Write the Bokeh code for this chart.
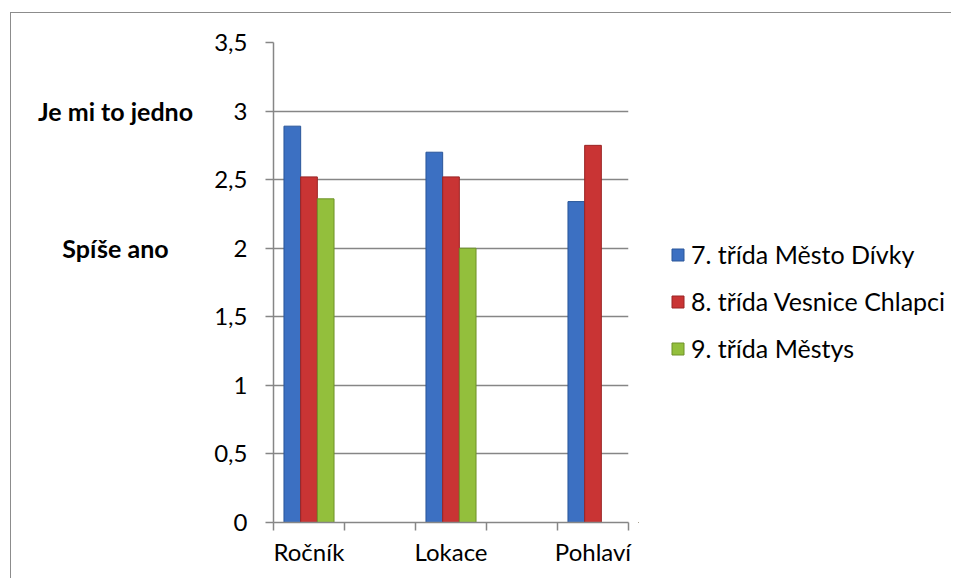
from bokeh.plotting import figure
from bokeh.models import ColumnDataSource, Range1d, FixedTicker, Legend, LegendItem
from bokeh.layouts import row
from bokeh.core.properties import value
from bokeh.transform import dodge
from bokeh.embed import file_html
from bokeh.resources import INLINE

categories = ["Ročník", "Lokace", "Pohlaví"]
series_names = ["7. třída Město Dívky", "8. třída Vesnice Chlapci", "9. třída Městys"]
s7 = [2.89, 2.70, 2.34]
s8 = [2.52, 2.52, 2.75]
s9 = [2.36, 2.00, float("nan")]
y_ticks = [0, 0.5, 1, 1.5, 2, 2.5, 3, 3.5]
y_tick_labels = ["0", "0,5", "1", "1,5", "2", "2,5", "3", "3,5"]
side_labels = ["Je mi to jedno", "Spíše ano"]
side_values = [3, 2]

colors = ["#3C70C2", "#C93434", "#93BF3C"]
edges = ["#2A5699", "#9A2424", "#6E9128"]

FONT = "Lato"
FS = "24px"
H = 565
TOP, BOTTOM = 29, 56
LEFT_W = 190
MAIN_W = 437
RIGHT_W = 313

yr = Range1d(0, 3.5)

# left figure: bold side labels
lf = figure(width=LEFT_W, height=H, output_backend="svg", toolbar_location=None,
            x_range=Range1d(0, LEFT_W), y_range=yr,
            min_border_left=0, min_border_right=0, min_border_top=TOP, min_border_bottom=BOTTOM)
lf.axis.visible = False
lf.grid.visible = False
lf.outline_line_color = None
lf.text(x=[104] * len(side_labels), y=side_values, text=side_labels,
        text_align="center", text_baseline="middle",
        text_font=value(FONT), text_font_size="25px", text_font_style="bold", text_color="black")

# main chart
xpos = [2 * i + 0.5 for i in range(len(categories))]
src = ColumnDataSource(dict(x=xpos, s7=s7, s8=s8, s9=s9))

p = figure(width=MAIN_W, height=H, output_backend="svg", toolbar_location=None,
           x_range=Range1d(0, 5), y_range=yr,
           min_border_left=72, min_border_right=10, min_border_top=TOP, min_border_bottom=BOTTOM)
p.outline_line_color = None

bw = 0.235
offs = [-bw, 0, bw]
for key, off, c, e in zip(["s7", "s8", "s9"], offs, colors, edges):
    p.vbar(x=dodge("x", off, range=p.x_range), top=key, width=bw, bottom=0,
           source=src, fill_color=c, line_color=e, line_width=1)

xa = p.xaxis[0]
xa.ticker = FixedTicker(ticks=xpos, minor_ticks=list(range(0, 6)))
xa.major_label_overrides = {x: c for x, c in zip(xpos, categories)}
xa.major_tick_out = 0
xa.major_tick_in = 0
xa.minor_tick_out = 8
xa.minor_tick_in = 0
xa.minor_tick_line_color = "#868686"
xa.minor_tick_line_width = 1.5
xa.axis_line_color = "#868686"
xa.axis_line_width = 1.5
xa.major_label_text_font = FONT
xa.major_label_text_font_size = FS
xa.major_label_text_color = "black"
xa.major_label_standoff = 6

ya = p.yaxis[0]
ya.ticker = FixedTicker(ticks=y_ticks, minor_ticks=[])
ya.major_label_overrides = {v: t for v, t in zip(y_ticks, y_tick_labels)}
ya.major_tick_out = 8
ya.major_tick_in = 0
ya.major_tick_line_color = "#868686"
ya.major_tick_line_width = 1.5
ya.axis_line_color = "#868686"
ya.axis_line_width = 1.5
ya.major_label_text_font = FONT
ya.major_label_text_font_size = FS
ya.major_label_text_color = "black"
ya.major_label_standoff = 18

p.xgrid.grid_line_color = None
p.ygrid.ticker = FixedTicker(ticks=y_ticks)
p.ygrid.grid_line_color = "#868686"
p.ygrid.grid_line_width = 1.3

# right figure: legend (key swatches drawn from off-screen zero-height bars)
rf = figure(width=RIGHT_W, height=H, output_backend="svg", toolbar_location=None,
            x_range=Range1d(0, 1), y_range=Range1d(0, 1),
            min_border_left=0, min_border_right=0, min_border_top=0, min_border_bottom=0)
rf.axis.visible = False
rf.grid.visible = False
rf.outline_line_color = None
keys = []
for n, c, e in zip(series_names, colors, edges):
    keys.append(rf.vbar(x=[-5], top=[0], bottom=[0], width=0.1,
                        fill_color=c, line_color=e, line_width=1))

legend = Legend(items=[LegendItem(label=n, renderers=[r]) for n, r in zip(series_names, keys)],
                location=(32, 159), orientation="vertical",
                glyph_width=15, glyph_height=15, label_height=30, spacing=17,
                label_standoff=6, padding=0, margin=0,
                border_line_color=None, background_fill_alpha=0,
                label_text_font=FONT, label_text_font_size="25px", label_text_color="black")
rf.add_layout(legend, "center")

layout = row(lf, p, rf, margin=(12, 0, 0, 10),
             styles={"border-left": "1px solid #8C8C8C", "border-top": "1px solid #8C8C8C"})

open("out.html", "w").write(file_html(layout, INLINE))
